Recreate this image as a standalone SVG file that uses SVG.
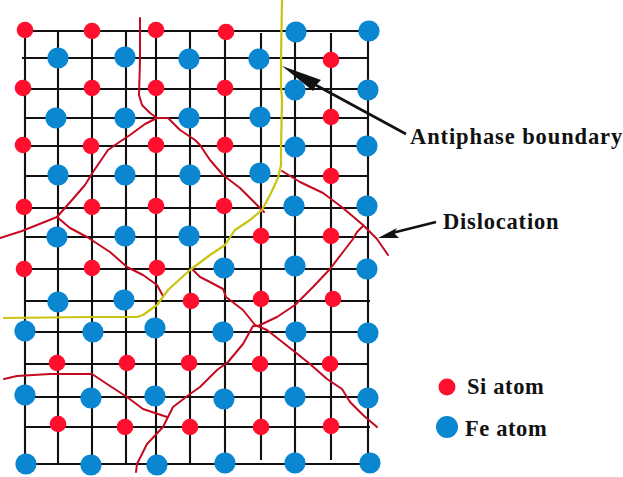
<svg xmlns="http://www.w3.org/2000/svg" width="623" height="477" viewBox="0 0 623 477">
<style>
.g{stroke:#111;stroke-width:2.1;fill:none}
.si{fill:#fe0f2e}
.fe{fill:#0a87d0}
.d{stroke:#c40a20;stroke-width:2;fill:none;stroke-linejoin:round;stroke-linecap:round}
.y{stroke:#c9c40f;stroke-width:2.2;fill:none;stroke-linejoin:round;stroke-linecap:round}
.a{stroke:#111;stroke-width:2.6;fill:none}
.h{fill:#111}
text{font-family:"Liberation Serif","Times New Roman",serif;font-weight:700;fill:#111;font-size:22.5px}
</style>
<rect width="623" height="477" fill="#fff"/>
<g id="grid">
<path class="g" d="M25 31V464M58 32V464M92 31V464M126 32V464M156 31V464M190 32V464M225 32V464M261 33V460M295 32V464M331 33V460M368 32V464"/>
<path class="g" d="M25 31H368M22 58H368M23 89H368M25 118H368M23 146H368M25 176H368M24 208H368M25 237H368M24 269H368M25 301H370M25 332H368M25 364H368M25 397H368M25 427H370M25 464H370"/>
</g>
<g id="connectors">
<path class="d" d="M140 18L140 60L139 95L142 105L150 113L157 118L168 118L180 130L195 140L200 145L210 160L223 175L240 188L262 210L264 212"/>
<path class="d" d="M157 118L145 124L130 135L118 143L108 150L93 172L85 185L72 200L57 217L22 231L0 238"/>
<path class="d" d="M57 217L70 228L87 237L110 252L127 267L143 275L157 285L163 296"/>
<path class="d" d="M282 171L300 182L323 193L343 208L363 225L377 239L388 255"/>
<path class="d" d="M363 226L357 232L353 239L343 252L330 269L313 287L295 305L277 317L258 326L253 326L243 344L228 362L217 370L200 387L190 394L173 407L163 427L147 444L137 464L136 472"/>
<path class="d" d="M193 270L200 277L210 282L223 289L226 297L243 310L255 325L267 330L295 352L310 364L327 379L342 389L350 402L363 415L377 427"/>
<path class="d" d="M4 379L17 376L50 374L92 374L107 384L127 397L143 409L167 417"/>
<path class="y" d="M282 0L281 60L281 85L282 100L281 150L281 165L278 178L270 195L262 210L250 220L235 230L225 245L210 255L190 270L180 279L168 290L157 305L143 315L137 317L90 317L4 318"/>
<path class="a" d="M406 134L312 83"/>
<polygon class="h" points="282,66 321,80 316,85 313,91"/>
<path class="a" d="M436 222L392 233"/>
<polygon class="h" points="378,238 397,228 394,233 399,238"/>
</g>
<g id="si-atoms" class="si">
<circle cx="25" cy="30" r="8.3"/><circle cx="92" cy="31" r="8.3"/><circle cx="156" cy="30" r="8.3"/><circle cx="226" cy="32" r="8.3"/>
<circle cx="331" cy="60" r="8.3"/>
<circle cx="23" cy="88" r="8.3"/><circle cx="92" cy="88" r="8.3"/><circle cx="156" cy="88" r="8.3"/><circle cx="225" cy="88" r="8.3"/>
<circle cx="331" cy="117" r="8.3"/>
<circle cx="23" cy="145" r="8.3"/><circle cx="91" cy="146" r="8.3"/><circle cx="156" cy="145" r="8.3"/><circle cx="225" cy="145" r="8.3"/>
<circle cx="331" cy="176" r="8.3"/>
<circle cx="24" cy="207" r="8.3"/><circle cx="92" cy="207" r="8.3"/><circle cx="156" cy="206" r="8.3"/><circle cx="224" cy="206" r="8.3"/>
<circle cx="261" cy="236" r="8.3"/><circle cx="331" cy="236" r="8.3"/>
<circle cx="24" cy="269" r="8.3"/><circle cx="92" cy="268" r="8.3"/><circle cx="157" cy="268" r="8.3"/>
<circle cx="191" cy="301" r="8.3"/><circle cx="261" cy="299" r="8.3"/><circle cx="333" cy="299" r="8.3"/>
<circle cx="57" cy="363" r="8.3"/><circle cx="127" cy="363" r="8.3"/><circle cx="189" cy="363" r="8.3"/><circle cx="260" cy="364" r="8.3"/><circle cx="330" cy="364" r="8.3"/>
<circle cx="58" cy="424" r="8.3"/><circle cx="125" cy="427" r="8.3"/><circle cx="190" cy="427" r="8.3"/><circle cx="261" cy="427" r="8.3"/><circle cx="331" cy="426" r="8.3"/>
</g>
<g id="fe-atoms" class="fe">
<circle cx="296" cy="32" r="10.6"/><circle cx="369" cy="31" r="10.6"/>
<circle cx="58" cy="58" r="10.6"/><circle cx="125" cy="57" r="10.6"/><circle cx="189" cy="59" r="10.6"/><circle cx="259" cy="59" r="10.6"/>
<circle cx="295" cy="90" r="10.6"/><circle cx="368" cy="90" r="10.6"/>
<circle cx="56" cy="118" r="10.6"/><circle cx="125" cy="118" r="10.6"/><circle cx="189" cy="118" r="10.6"/><circle cx="260" cy="117" r="10.6"/>
<circle cx="295" cy="147" r="10.6"/><circle cx="367" cy="146" r="10.6"/>
<circle cx="58" cy="175" r="10.6"/><circle cx="125" cy="175" r="10.6"/><circle cx="190" cy="175" r="10.6"/><circle cx="260" cy="173" r="10.6"/>
<circle cx="294" cy="206" r="10.6"/><circle cx="367" cy="206" r="10.6"/>
<circle cx="57" cy="237" r="10.6"/><circle cx="125" cy="236" r="10.6"/><circle cx="189" cy="236" r="10.6"/>
<circle cx="224" cy="268" r="10.6"/><circle cx="295" cy="266" r="10.6"/><circle cx="367" cy="269" r="10.6"/>
<circle cx="58" cy="302" r="10.6"/><circle cx="124" cy="300" r="10.6"/>
<circle cx="25" cy="331" r="10.6"/><circle cx="93" cy="332" r="10.6"/><circle cx="155" cy="328" r="10.6"/><circle cx="223" cy="332" r="10.6"/><circle cx="296" cy="332" r="10.6"/><circle cx="368" cy="333" r="10.6"/>
<circle cx="25" cy="395" r="10.6"/><circle cx="91" cy="398" r="10.6"/><circle cx="155" cy="396" r="10.6"/><circle cx="224" cy="399" r="10.6"/><circle cx="295" cy="397" r="10.6"/><circle cx="368" cy="398" r="10.6"/>
<circle cx="26" cy="464" r="10.6"/><circle cx="91" cy="465" r="10.6"/><circle cx="157" cy="465" r="10.6"/><circle cx="225" cy="463" r="10.6"/><circle cx="295" cy="463" r="10.6"/><circle cx="370" cy="463" r="10.6"/>
</g>
<g id="labels">
<text x="410" y="144" letter-spacing="0.9">Antiphase boundary</text>
<text x="443" y="229" letter-spacing="0.8">Dislocation</text>
</g>
<g id="legend-si"><circle class="si" cx="447" cy="387" r="8.5"/><text x="467" y="394" letter-spacing="0.6">Si atom</text></g>
<g id="legend-fe"><circle class="fe" cx="447" cy="427" r="11"/><text x="465" y="436" letter-spacing="0.6">Fe atom</text></g>
</svg>
